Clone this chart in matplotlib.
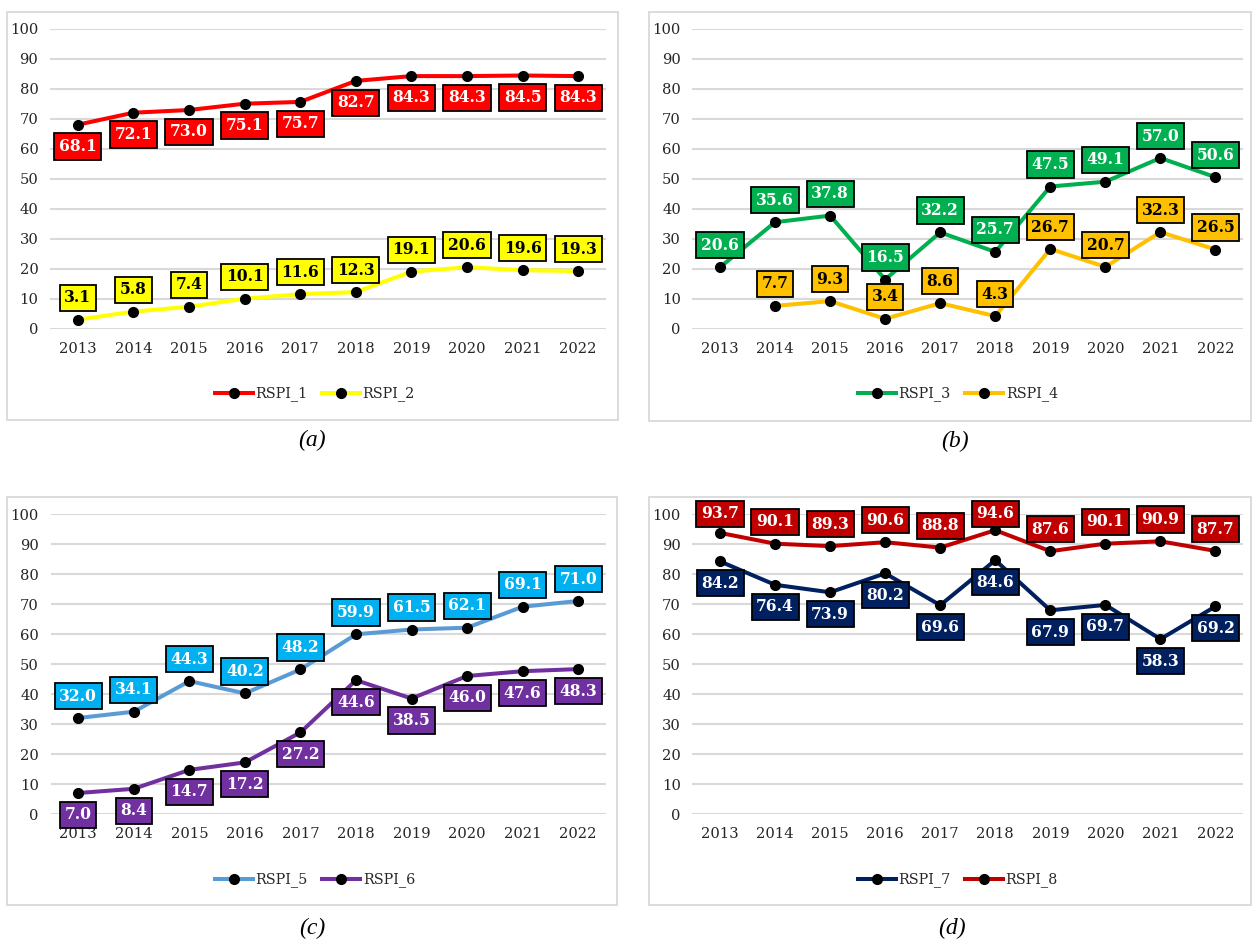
import matplotlib
matplotlib.use("Agg")
import matplotlib.pyplot as plt
from matplotlib.lines import Line2D
from matplotlib.patches import Rectangle

years = [2013, 2014, 2015, 2016, 2017, 2018, 2019, 2020, 2021, 2022]
year_labels = [str(y) for y in years]

rspi_1 = [68.1, 72.1, 73.0, 75.1, 75.7, 82.7, 84.3, 84.3, 84.5, 84.3]
rspi_2 = [3.1, 5.8, 7.4, 10.1, 11.6, 12.3, 19.1, 20.6, 19.6, 19.3]
rspi_3 = [20.6, 35.6, 37.8, 16.5, 32.2, 25.7, 47.5, 49.1, 57.0, 50.6]
rspi_4 = [None, 7.7, 9.3, 3.4, 8.6, 4.3, 26.7, 20.7, 32.3, 26.5]
rspi_5 = [32.0, 34.1, 44.3, 40.2, 48.2, 59.9, 61.5, 62.1, 69.1, 71.0]
rspi_6 = [7.0, 8.4, 14.7, 17.2, 27.2, 44.6, 38.5, 46.0, 47.6, 48.3]
rspi_7 = [84.2, 76.4, 73.9, 80.2, 69.6, 84.6, 67.9, 69.7, 58.3, 69.2]
rspi_8 = [93.7, 90.1, 89.3, 90.6, 88.8, 94.6, 87.6, 90.1, 90.9, 87.7]

W, H = 1256, 941
fig = plt.figure(figsize=(W / 100, H / 100), dpi=100)

TICK_FONT = "DejaVu Serif"
GRID = "#d9d9d9"
TXT = "#262626"


def fx(px):
    return px / W


def fy(py):
    return 1 - py / H


# panel definitions: box (pixels), axes (x0, x1, ytop, ybottom), series
panels = [
    dict(box=(7, 12, 618, 420), ax=(50, 606, 29, 329), cap="(a)", cap_xy=(312, 440), leg_xy=(315, 394),
         series=[("RSPI_1", rspi_1, "#FF0000", "#FF0000", "white", -1),
                 ("RSPI_2", rspi_2, "#FFFF00", "#FFFF00", "black", +1)]),
    dict(box=(649, 12, 1251, 421), ax=(692.5, 1243, 29, 329), cap="(b)", cap_xy=(955, 441), leg_xy=(958, 394),
         series=[("RSPI_3", rspi_3, "#00B050", "#00B050", "white", +1),
                 ("RSPI_4", rspi_4, "#FFC000", "#FFC000", "black", +1)]),
    dict(box=(7, 497, 617, 905), ax=(50.5, 606, 514, 814), cap="(c)", cap_xy=(312, 928), leg_xy=(315, 880),
         series=[("RSPI_5", rspi_5, "#5B9BD5", "#00B0F0", "white", +1),
                 ("RSPI_6", rspi_6, "#7030A0", "#7030A0", "white", -1)]),
    dict(box=(649, 497, 1251, 905), ax=(692.5, 1243, 514, 814), cap="(d)", cap_xy=(952, 928), leg_xy=(958, 880),
         series=[("RSPI_7", rspi_7, "#002060", "#002060", "white", -1),
                 ("RSPI_8", rspi_8, "#C00000", "#C00000", "white", +1)]),
]

LABEL_OFF = 7.3  # data units

for p in panels:
    bx0, by0, bx1, by1 = p["box"]
    fig.patches.append(Rectangle((fx(bx0), fy(by1)), fx(bx1 - bx0), (by1 - by0) / H,
                                 transform=fig.transFigure, fill=False, edgecolor=GRID, lw=1.3))
    x0, x1, yt, yb = p["ax"]
    ax = fig.add_axes([fx(x0), fy(yb), fx(x1 - x0), (yb - yt) / H])
    ax.set_xlim(-0.5, len(years) - 0.5)
    ax.set_ylim(0, 100)
    ax.set_yticks(range(0, 101, 10))
    ax.set_xticks(range(len(years)))
    ax.set_xticklabels(year_labels)
    for s in ax.spines.values():
        s.set_visible(False)
    ax.grid(axis="y", color=GRID, lw=1.5)
    ax.set_axisbelow(True)
    ax.tick_params(length=0, labelsize=10.6, colors=TXT)
    ax.tick_params(axis="y", pad=8.4)
    ax.tick_params(axis="x", pad=9.5)
    for lab in ax.get_xticklabels() + ax.get_yticklabels():
        lab.set_fontfamily(TICK_FONT)
    handles = []
    for name, vals, lc, bc, tc, side in p["series"]:
        xs = [i for i, v in enumerate(vals) if v is not None]
        ys = [v for v in vals if v is not None]
        ax.plot(xs, ys, color=lc, lw=2.9, marker="o", markersize=7,
                markerfacecolor="black", markeredgecolor="black", zorder=3, clip_on=False)
        for x, v in zip(xs, ys):
            ly = v + side * LABEL_OFF
            ly = min(ly, 100.0)
            ax.text(x, ly, f"{v:.1f}", ha="center", va="center", color=tc,
                    fontfamily=TICK_FONT, fontweight="bold", fontsize=11.2, zorder=5,
                    bbox=dict(boxstyle="square,pad=0.3", facecolor=bc, edgecolor="black", lw=1.3),
                    clip_on=False)
        handles.append(Line2D([0], [0], color=lc, lw=2.9, marker="o", markersize=7,
                              markerfacecolor="black", markeredgecolor="black", label=name))
    lx, ly_ = p["leg_xy"]
    fig.legend(handles=handles, loc="center", bbox_to_anchor=(fx(lx), fy(ly_)), ncol=2,
               frameon=False, numpoints=1, handlelength=2.6, handletextpad=0.2,
               columnspacing=1.0, prop=dict(family=TICK_FONT, size=10.4), labelcolor=TXT)
    cx, cy = p["cap_xy"]
    fig.text(fx(cx), fy(cy), p["cap"], ha="center", va="center", fontsize=17,
             fontstyle="italic", fontfamily="Liberation Serif")

fig.savefig("out.png", dpi=100)
